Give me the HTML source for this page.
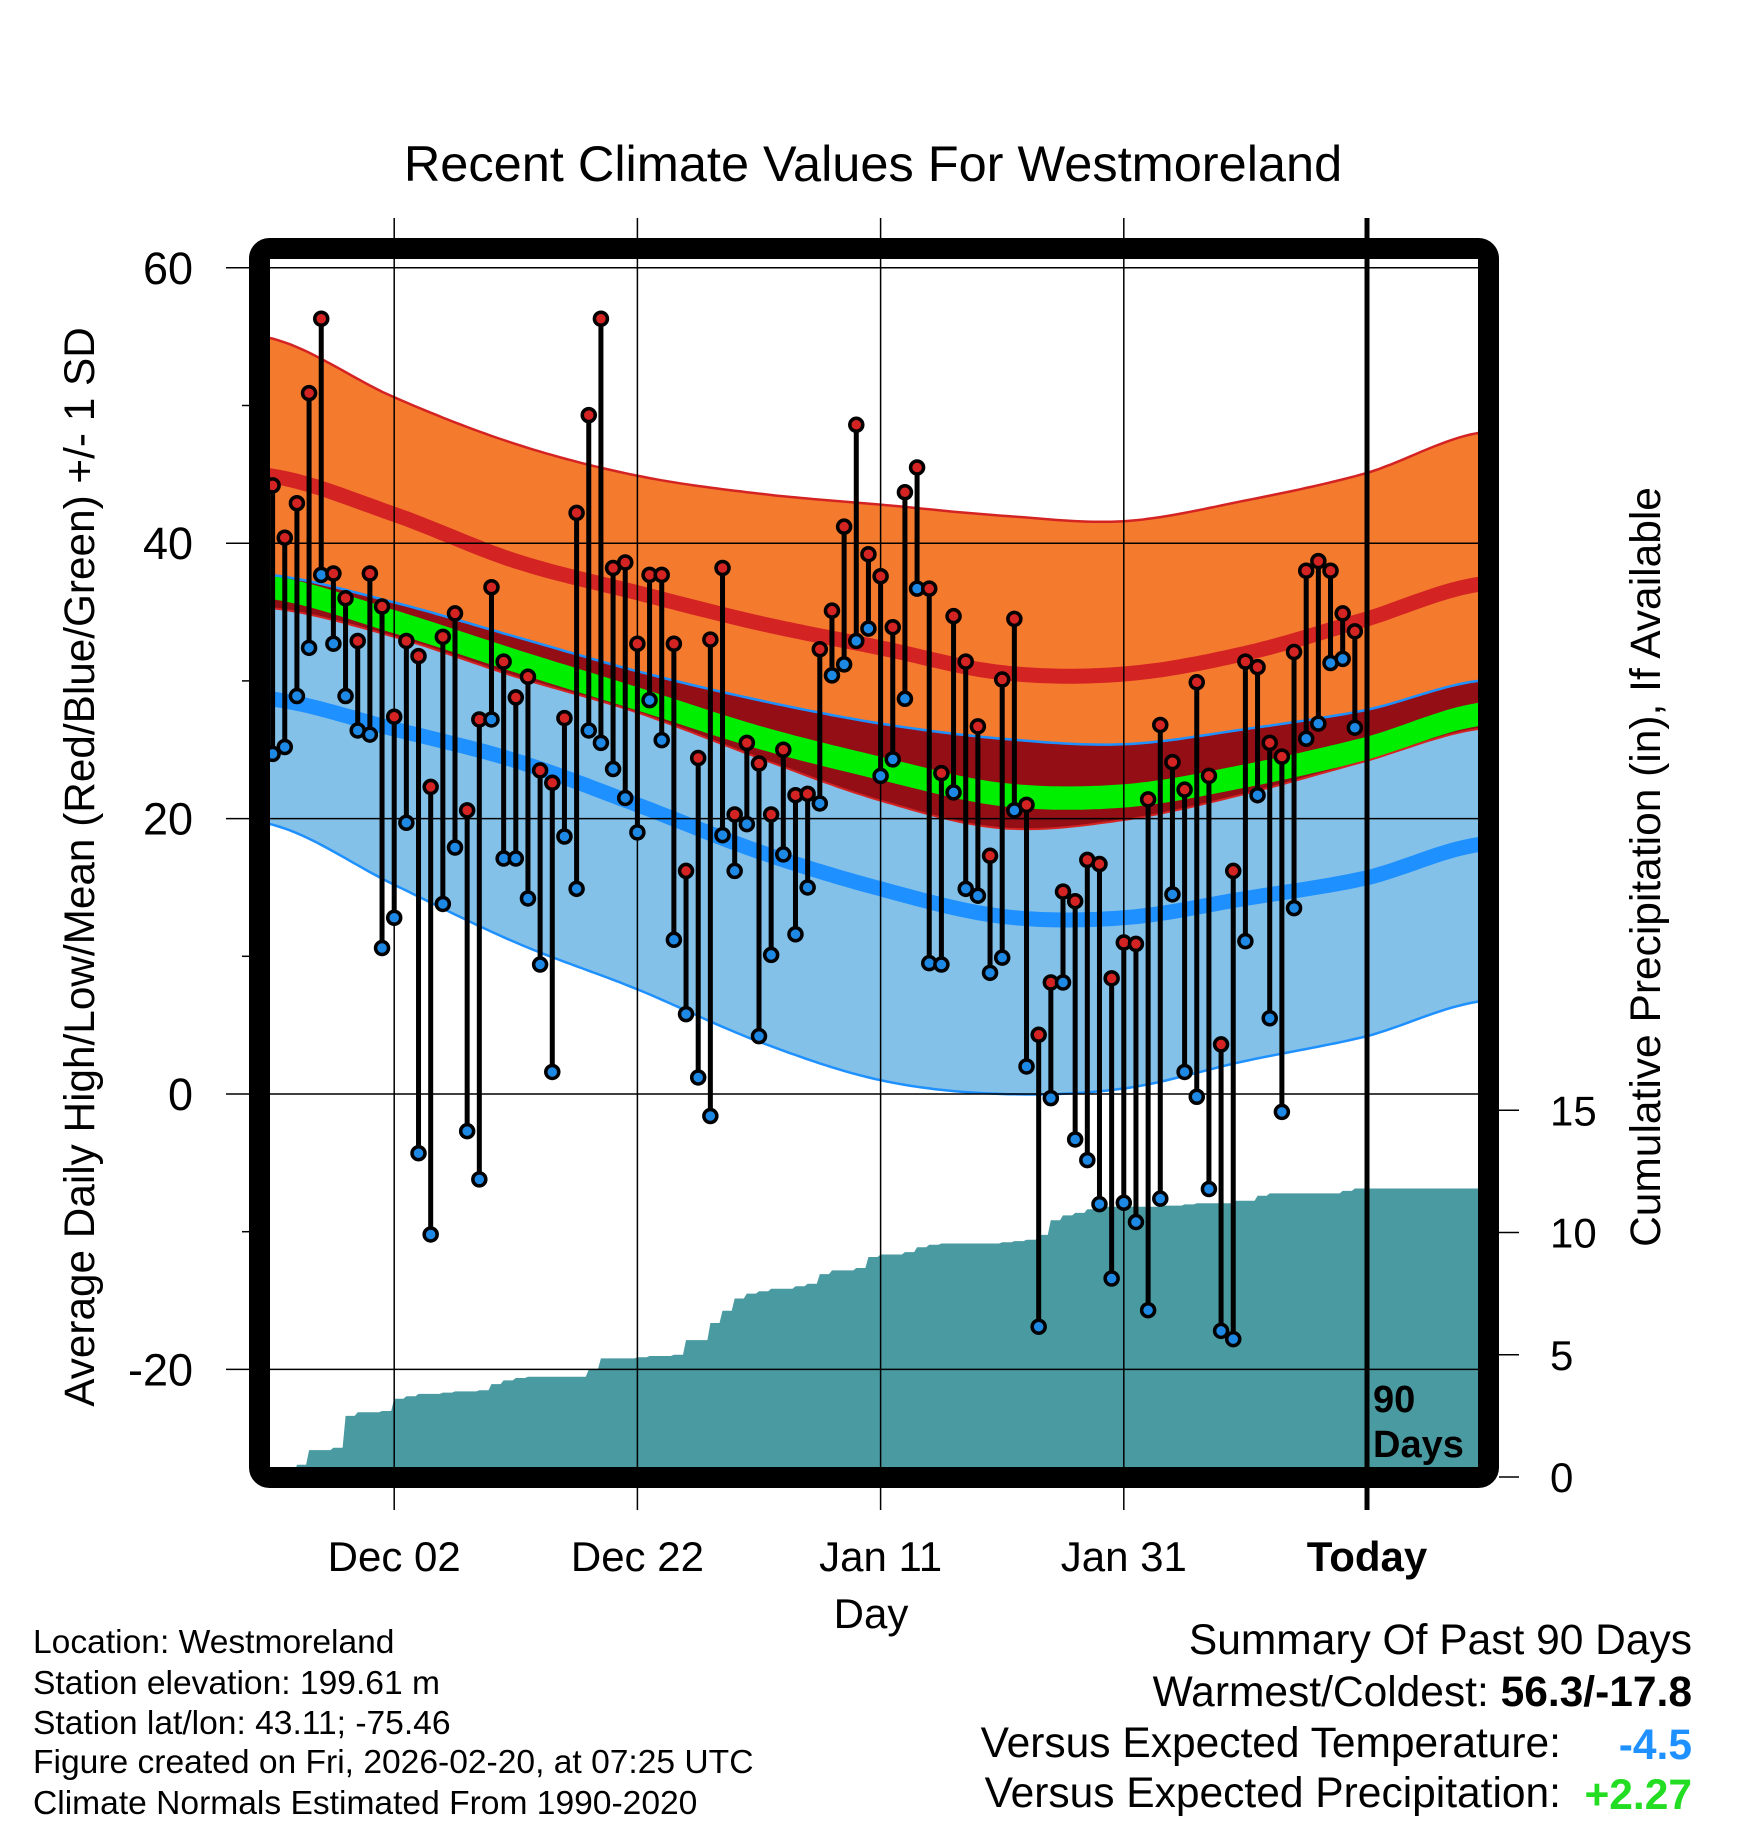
<!DOCTYPE html>
<html><head><meta charset="utf-8"><style>
html,body{margin:0;padding:0;background:#fff}
svg{display:block}
text{font-family:"Liberation Sans",Arial,sans-serif;fill:#000}
</style></head><body>
<svg id="chart" width="1748" height="1828" viewBox="0 0 1748 1828" xmlns="http://www.w3.org/2000/svg">
<defs><clipPath id="plotclip"><rect x="270" y="260" width="1208" height="1208"/></clipPath></defs>
<g id="bands" clip-path="url(#plotclip)"></g>
<g id="precip" clip-path="url(#plotclip)"></g>
<g id="grid"></g>
<g id="marks" clip-path="url(#plotclip)"></g>
<rect x="259.5" y="248.5" width="1229" height="1229" rx="10" fill="none" stroke="#000" stroke-width="21"/>
<g id="axes"></g>
<text x="873" y="181" font-size="50.5" text-anchor="middle">Recent Climate Values For Westmoreland</text>
<text transform="translate(94,867) rotate(-90)" font-size="42.3" text-anchor="middle">Average Daily High/Low/Mean (Red/Blue/Green) +/- 1 SD</text>
<text transform="translate(1660,867) rotate(-90)" font-size="42.5" text-anchor="middle">Cumulative Precipitation (in), If Available</text>
<text x="871" y="1628" font-size="42" text-anchor="middle">Day</text>
<text x="1373" y="1412" font-size="38" font-weight="bold">90</text>
<text x="1373" y="1457" font-size="38" font-weight="bold">Days</text>
<g font-size="33.6">
<text x="33" y="1653">Location: Westmoreland</text>
<text x="33" y="1694">Station elevation: 199.61 m</text>
<text x="33" y="1734">Station lat/lon: 43.11; -75.46</text>
<text x="33" y="1773">Figure created on Fri, 2026-02-20, at 07:25 UTC</text>
<text x="33" y="1814">Climate Normals Estimated From 1990-2020</text>
</g>
<g font-size="42.5">
<text x="1692" y="1654" text-anchor="end">Summary Of Past 90 Days</text>
<text x="1692" y="1706" text-anchor="end">Warmest/Coldest: <tspan font-weight="bold">56.3/-17.8</tspan></text>
<text x="1561" y="1757" text-anchor="end">Versus Expected Temperature:</text>
<text x="1692" y="1759" text-anchor="end" font-weight="bold" style="fill:#1e90ff">-4.5</text>
<text x="1561" y="1807" text-anchor="end">Versus Expected Precipitation:</text>
<text x="1692" y="1809" text-anchor="end" font-weight="bold" style="fill:#22dd22">+2.27</text>
</g>
</svg>
<script>
const highs=[44.2,40.4,42.9,50.9,56.3,37.8,36.0,32.9,37.8,35.4,27.4,32.9,31.8,22.3,33.2,34.9,20.6,27.2,36.8,31.4,28.8,30.3,23.5,22.6,27.3,42.2,49.3,56.3,38.2,38.6,32.7,37.7,37.7,32.7,16.2,24.4,33.0,38.2,20.3,25.5,24.0,20.3,25.0,21.7,21.8,32.3,35.1,41.2,48.6,39.2,37.6,33.9,43.7,45.5,36.7,23.3,34.7,31.4,26.7,17.3,30.1,34.5,21.0,4.3,8.1,14.7,14.0,17.0,16.7,8.4,11.0,10.9,21.4,26.8,24.1,22.1,29.9,23.1,3.6,16.2,31.4,31.0,25.5,24.5,32.1,38.0,38.7,38.0,34.9,33.6];
const lows=[24.7,25.2,28.9,32.4,37.7,32.7,28.9,26.4,26.1,10.6,12.8,19.7,-4.3,-10.2,13.8,17.9,-2.7,-6.2,27.2,17.1,17.1,14.2,9.4,1.6,18.7,14.9,26.4,25.5,23.6,21.5,19.0,28.6,25.7,11.2,5.8,1.2,-1.6,18.8,16.2,19.6,4.2,10.1,17.4,11.6,15.0,21.1,30.4,31.2,32.9,33.8,23.1,24.3,28.7,36.7,9.5,9.4,21.9,14.9,14.4,8.8,9.9,20.6,2.0,-16.9,-0.3,8.1,-3.3,-4.8,-8.0,-13.4,-7.9,-9.3,-15.7,-7.6,14.5,1.6,-0.2,-6.9,-17.2,-17.8,11.1,21.7,5.5,-1.3,13.5,25.8,26.9,31.3,31.6,26.6];
const precip=[0,0,0.5,1.1,1.1,1.2,2.5,2.65,2.65,2.7,3.2,3.3,3.4,3.4,3.45,3.5,3.5,3.55,3.8,3.95,4.05,4.1,4.1,4.1,4.1,4.1,4.4,4.85,4.85,4.85,4.9,4.95,4.95,5.0,5.6,5.6,6.3,6.8,7.3,7.5,7.6,7.7,7.7,7.8,7.9,8.3,8.45,8.45,8.55,9.0,9.1,9.1,9.2,9.4,9.5,9.55,9.55,9.55,9.55,9.55,9.6,9.65,9.7,9.9,10.5,10.7,10.8,10.95,11.05,11.05,11.05,11.05,11.05,11.1,11.1,11.15,11.2,11.2,11.2,11.3,11.3,11.5,11.6,11.6,11.6,11.6,11.6,11.6,11.7,11.8];
const knotDays=[-90.2,-80,-70,-60,-50,-40,-30,-20,-10,0,9.1];
const highPlusSD=[54.9,50.6,47.2,44.9,43.6,42.8,42.0,41.6,43.1,45.1,48.0];
const normalHigh=[44.9,42.1,38.7,36.4,34.2,32.4,30.6,30.5,32.0,34.5,37.0];
const highMinusSD=[35.3,33.2,30.3,27.7,24.4,21.3,19.3,19.9,21.8,24.2,26.5];
const lowPlusSD=[37.7,35.7,33.2,30.7,28.6,26.9,25.8,25.4,26.5,27.9,30.0];
const normalLow=[28.7,26.5,24.2,21.0,17.6,14.9,12.9,12.8,14.2,15.7,18.1];
const lowMinusSD=[19.6,15.2,11.0,7.6,3.8,1.0,0.0,0.4,2.4,4.2,6.7];
const yTicks=[60,40,20,0,-20];
const yMinor=[50,30,10,-10];
const pTicks=[0,5,10,15];
const dateLabels=["Dec 02","Dec 22","Jan 11","Jan 31","Today"];
const dateOffsets=[-80,-60,-40,-20,0];

const NS="http://www.w3.org/2000/svg";
const L=270,R=1478,T=260,B=1468;
function xDay(d){return 1367+d*12.16;}
function xIdx(i){return xDay(i-90);}
function yT(v){return 1094-v*13.77;}
function yP(p){return 1477-p*24.45;}
function mk(tag,attrs,parent){const e=document.createElementNS(NS,tag);for(const k in attrs)e.setAttribute(k,attrs[k]);parent.appendChild(e);return e;}
function interp(arr,d){
  let k=0;while(k<knotDays.length-2&&d>knotDays[k+1])k++;
  const t=(d-knotDays[k])/(knotDays[k+1]-knotDays[k]);
  const p0=arr[Math.max(k-1,0)],p1=arr[k],p2=arr[k+1],p3=arr[Math.min(k+2,arr.length-1)];
  const t2=t*t,t3=t2*t;
  return 0.5*((2*p1)+(-p0+p2)*t+(2*p0-5*p1+4*p2-p3)*t2+(-p0+3*p1-3*p2+p3)*t3);
}
const samples=[];for(let d=-91;d<=10.5;d+=0.5)samples.push(d);
function linePts(f){return samples.map(d=>xDay(d).toFixed(1)+","+yT(f(d)).toFixed(1));}
function bandPath(fTop,fBot){const a=linePts(fTop),b=linePts(fBot).reverse();return "M"+a.join(" L")+" L"+b.join(" L")+" Z";}
const bands=document.getElementById('bands');
const blueBand=mk('path',{d:bandPath(d=>interp(lowPlusSD,d),d=>interp(lowMinusSD,d)),fill:'#84c1e8'},bands);


const orangeBand=mk('path',{d:bandPath(d=>interp(highPlusSD,d),d=>interp(highMinusSD,d)),fill:'#f47a2e'},bands);


const overlap=mk('path',{d:bandPath(d=>interp(lowPlusSD,d),d=>Math.min(interp(highMinusSD,d),interp(lowPlusSD,d))),fill:'#930f15'},bands);


const green=mk('path',{d:bandPath(d=>(interp(normalHigh,d)+interp(normalLow,d))/2+0.85,d=>(interp(normalHigh,d)+interp(normalLow,d))/2-0.85),fill:'#00ee00'},bands);


function addLine(f,color,w,name){const p=mk('polyline',{points:linePts(f).join(" "),fill:'none',stroke:color,'stroke-width':w},bands);

}
addLine(d=>interp(highPlusSD,d),'#d42323',2.5,'high-plus-sd-line');
addLine(d=>interp(highMinusSD,d),'#d42323',2,'high-minus-sd-line');
addLine(d=>interp(lowPlusSD,d),'#1e90ff',2.5,'low-plus-sd-line');
addLine(d=>interp(lowMinusSD,d),'#1e90ff',2.5,'low-minus-sd-line');
addLine(d=>interp(normalHigh,d),'#d42323',15,'normal-high-line');
addLine(d=>interp(normalLow,d),'#1e90ff',15,'normal-low-line');

const pg=document.getElementById('precip');
let pd="M"+xIdx(0)+","+yP(0);
for(let i=0;i<precip.length;i++){const x=xIdx(i);pd+=" L"+(x).toFixed(1)+","+yP(precip[i]).toFixed(1);const xn=i<precip.length-1?xIdx(i+1)-3:R+5;pd+=" L"+xn.toFixed(1)+","+yP(precip[i]).toFixed(1);}
pd+=" L"+(R+5)+","+(B+5)+" L"+xIdx(0)+","+(B+5)+" Z";
const parea=mk('path',{d:pd,fill:'#4a9aa2'},pg);



const grid=document.getElementById('grid');
yTicks.forEach(v=>{const g=mk('line',{x1:226,x2:R,y1:yT(v),y2:yT(v),stroke:'#000','stroke-width':1.5},grid);

});
dateOffsets.forEach((d,i)=>{const x=xDay(d);const last=i===dateOffsets.length-1;
const g=mk('line',{x1:x,x2:x,y1:218,y2:1510,stroke:'#000','stroke-width':last?5:1.5},grid);

});

const marks=document.getElementById('marks');
for(let i=0;i<highs.length;i++){const x=xIdx(i);
 const s=mk('line',{x1:x,x2:x,y1:yT(highs[i]),y2:yT(lows[i]),stroke:'#000','stroke-width':5},marks);
 
 
}
for(let i=0;i<highs.length;i++){const x=xIdx(i);
 const lo=mk('circle',{cx:x,cy:yT(lows[i]),r:6.5,fill:'#1e88e5',stroke:'#000','stroke-width':3.5},marks);
 
 
 const hi=mk('circle',{cx:x,cy:yT(highs[i]),r:6.5,fill:'#d42323',stroke:'#000','stroke-width':3.5},marks);
 
 
}

const axes=document.getElementById('axes');
yTicks.forEach(v=>{const t=mk('text',{x:193,y:yT(v)+16,'font-size':45,'text-anchor':'end'},axes);t.textContent=String(v);

});
yMinor.forEach(v=>{const m=mk('line',{x1:242,x2:250,y1:yT(v),y2:yT(v),stroke:'#000','stroke-width':1.5},axes);

});
pTicks.forEach(p=>{const m=mk('line',{x1:1499,x2:1519,y1:yP(p),y2:yP(p),stroke:'#000','stroke-width':1.5},axes);


const t=mk('text',{x:1550,y:yP(p)+15,'font-size':42},axes);t.textContent=String(p);

});
dateLabels.forEach((lab,i)=>{const last=i===dateLabels.length-1;
const t=mk('text',{x:xDay(dateOffsets[i]),y:1571,'font-size':42,'text-anchor':'middle','font-weight':last?'bold':'normal'},axes);t.textContent=lab;

});
</script>
</body></html>
